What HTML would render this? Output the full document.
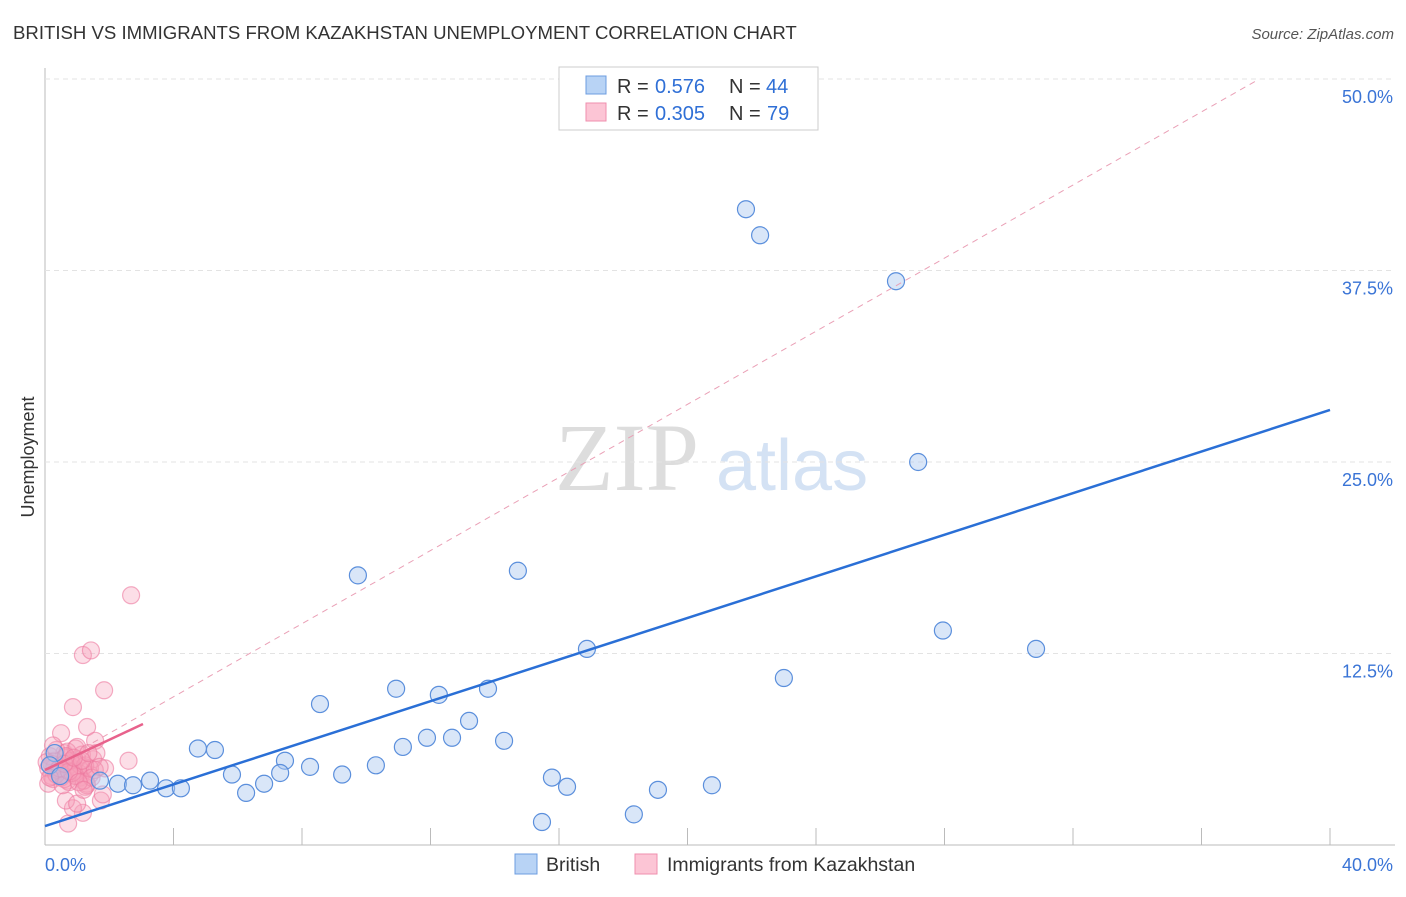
<!DOCTYPE html>
<html><head><meta charset="utf-8"><style>
body{margin:0;background:#fff;font-family:"Liberation Sans",sans-serif}
</style></head><body>
<svg id="c" width="1406" height="892" xmlns="http://www.w3.org/2000/svg">
<text x="13" y="39" font-size="18.6" fill="#333">BRITISH VS IMMIGRANTS FROM KAZAKHSTAN UNEMPLOYMENT CORRELATION CHART</text>
<text x="1394" y="39" font-size="15" fill="#555" font-style="italic" text-anchor="end">Source: ZipAtlas.com</text>
<text x="0" y="0" transform="translate(34,457) rotate(-90)" font-size="18" fill="#333" text-anchor="middle">Unemployment</text>
<text x="555" y="490" font-size="96" fill="#ddd" font-family="Liberation Serif">ZIP</text>
<text x="716" y="490" font-size="72" fill="#d4e2f4">atlas</text>
<g id="grid"></g><g id="pts"></g><g id="lines"></g>
<g>
<rect x="559" y="67" width="259" height="63" fill="#fff" stroke="#ccc"/>
<rect x="586" y="76" width="20" height="18" fill="#b8d3f5" stroke="#6c9de0"/>
<rect x="586" y="103" width="20" height="18" fill="#fcc5d5" stroke="#ef8fae"/>
<text x="617" y="93" font-size="20" fill="#333">R =</text>
<text x="655" y="93" font-size="20" fill="#2f6fd6">0.576</text>
<text x="729" y="93" font-size="20" fill="#333">N =</text>
<text x="766" y="93" font-size="20" fill="#2f6fd6">44</text>
<text x="617" y="120" font-size="20" fill="#333">R =</text>
<text x="655" y="120" font-size="20" fill="#2f6fd6">0.305</text>
<text x="729" y="120" font-size="20" fill="#333">N =</text>
<text x="767" y="120" font-size="20" fill="#2f6fd6">79</text>
</g>
<rect x="515" y="854" width="22" height="20" fill="#b8d3f5" stroke="#6c9de0"/>
<text x="546" y="871" font-size="19.5" fill="#333">British</text>
<rect x="635" y="854" width="22" height="20" fill="#fcc5d5" stroke="#ef8fae"/>
<text x="667" y="871" font-size="19.5" fill="#333">Immigrants from Kazakhstan</text>
</svg>
<script>
const xTicks=[0,4,8,12,16,20,24,28,32,36,40];
const yTicks=[12.5,25,37.5,50];
const yTickLabels=["12.5%","25.0%","37.5%","50.0%"];
const britishX=[21.82,22.26,26.49,27.18,9.74,14.72,27.95,30.85,16.87,23.0,10.93,13.79,12.26,8.56,13.2,4.76,5.29,11.89,12.67,14.29,11.14,7.47,8.25,7.32,5.82,10.3,9.25,15.78,16.25,6.82,6.26,3.27,3.77,4.23,2.27,2.74,1.71,19.08,20.76,18.33,15.47,0.3,0.15,0.47];
const britishY=[41.5,39.8,36.8,25.0,17.6,17.9,14.0,12.8,12.8,10.9,10.2,10.2,9.8,9.2,8.1,6.3,6.2,7.0,7.0,6.8,6.4,5.5,5.1,4.7,4.6,5.2,4.6,4.4,3.8,4.0,3.4,4.2,3.7,3.7,4.0,3.9,4.2,3.6,3.9,2.0,1.5,6.0,5.2,4.5];
const kazX=[2.68,1.18,1.43,1.84,0.87,1.31,0.5,2.6,0.72,1.18,0.87,1.74,0.65,1.0,1.56,1.87,1.4,0.1,0.2,0.3,0.4,0.5,0.6,0.7,0.8,0.9,1.0,1.1,1.2,1.3,0.15,0.25,0.35,0.45,0.55,0.65,0.75,0.85,0.95,1.05,1.15,1.25,0.1,0.3,0.5,0.7,0.9,1.1,1.3,1.5,0.2,0.4,0.6,0.8,1.0,1.2,1.4,1.6,0.05,0.35,0.65,0.95,1.25,1.55,0.25,0.55,0.85,1.15,1.45,1.7,0.45,0.75,1.05,1.35,0.15,0.6,0.9,1.2,1.8];
const kazY=[16.3,12.4,12.7,10.1,9.0,7.7,7.3,5.5,1.4,2.1,2.4,2.9,2.9,2.7,6.8,5.0,4.6,5.0,4.5,5.5,4.8,5.2,6.0,4.2,5.4,4.9,5.6,4.4,5.1,4.0,5.8,4.3,6.2,5.0,4.6,5.7,4.1,5.3,6.3,4.7,5.9,3.8,4.0,5.1,4.4,6.1,4.8,5.2,3.9,5.6,5.3,4.9,4.3,5.5,6.4,4.2,5.0,6.0,5.4,4.6,5.8,4.5,5.2,4.9,6.5,3.9,4.7,5.5,4.4,5.1,5.0,4.8,4.1,6.0,4.4,5.3,5.7,3.6,3.3];
const britishFit=[1.24,28.4];
const kazFit=[4.9,7.9];
const kazFitXEnd=3.05;
const kazDash=[4.9,50];
const kazDashXEnd=37.8;
const X=v=>45+v*32.125, Y=v=>845-v*15.32;
const ns="http://www.w3.org/2000/svg";
function mk(t,a,p){const e=document.createElementNS(ns,t);for(const k in a)e.setAttribute(k,a[k]);p.appendChild(e);return e;}
const g=document.getElementById('grid');
let ax=mk('line',{x1:45,y1:68,x2:45,y2:845,stroke:'#bbb'},g);


let bx=mk('line',{x1:45,y1:845,x2:1395,y2:845,stroke:'#bbb'},g);


yTicks.forEach((v,i)=>{
 let l=mk('line',{x1:45,y1:Y(v),x2:1395,y2:Y(v),stroke:'#e3e3e3','stroke-dasharray':'5,4'},g);
 
 
 let t=mk('text',{x:1393,y:Y(v)+24,'font-size':18,fill:'#3a74d6','text-anchor':'end'},g);t.textContent=yTickLabels[i];
 
 
});
xTicks.forEach(v=>{
 if(v===0)return;
 let l=mk('line',{x1:X(v),y1:828,x2:X(v),y2:845,stroke:'#bbb'},g);
 
 
});
[[0,"0.0%","start",45],[40,"40.0%","end",1393]].forEach(a=>{
 let t=mk('text',{x:a[3],y:871,'font-size':18,fill:'#3a74d6','text-anchor':a[2]},g);t.textContent=a[1];
 
 
});
const p=document.getElementById('pts');
kazX.forEach((x,i)=>{
 let c=mk('circle',{cx:X(x),cy:Y(kazY[i]),r:8.5,fill:'rgba(247,160,187,0.35)',stroke:'rgba(236,120,158,0.6)','stroke-width':1.2},p);
 
 
});
britishX.forEach((x,i)=>{
 let c=mk('circle',{cx:X(x),cy:Y(britishY[i]),r:8.5,fill:'rgba(170,200,240,0.45)',stroke:'#5b8fdc','stroke-width':1.2},p);
 
 
});
const L=document.getElementById('lines');
let d=mk('line',{x1:X(0),y1:Y(kazDash[0]),x2:X(kazDashXEnd),y2:Y(kazDash[1]),stroke:'#eaa0b6','stroke-dasharray':'6,5','stroke-width':1},L);


let b=mk('line',{x1:X(0),y1:Y(britishFit[0]),x2:X(40),y2:Y(britishFit[1]),stroke:'#2a6fd6','stroke-width':2.5},L);


let k=mk('line',{x1:X(0),y1:Y(kazFit[0]),x2:X(kazFitXEnd),y2:Y(kazFit[1]),stroke:'#e8628c','stroke-width':2.5},L);


</script>
</body></html>
